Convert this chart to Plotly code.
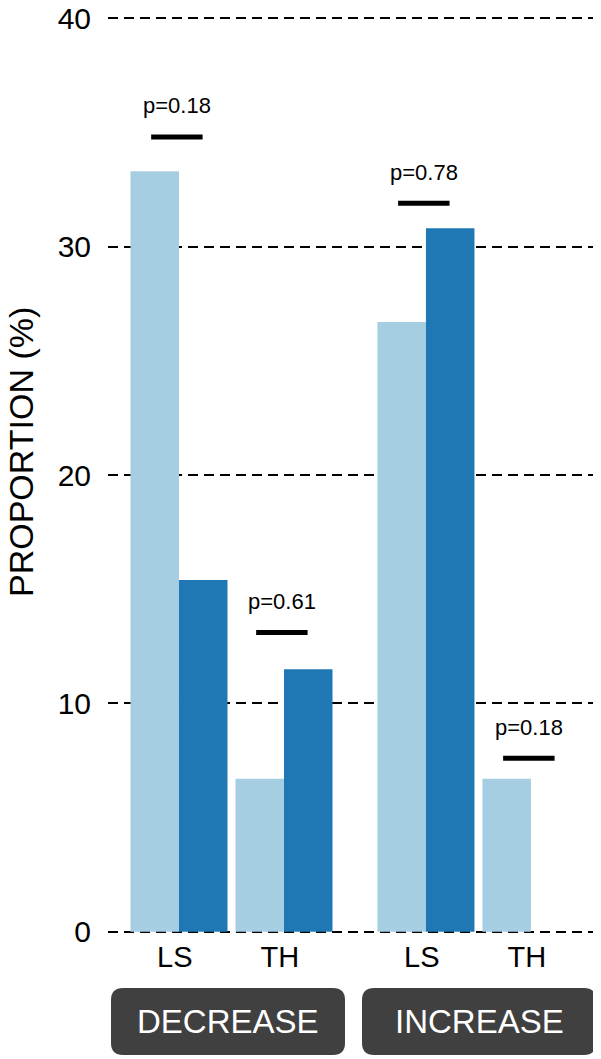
import plotly.graph_objects as go

groups = ["DECREASE", "INCREASE"]
categories = ["LS", "TH", "LS", "TH"]
light_vals = [33.3, 6.7, 26.7, 6.7]
dark_vals = [15.4, 11.5, 30.8, 0.0]
p_labels = ["p=0.18", "p=0.61", "p=0.78", "p=0.18"]
p_heights = [34.8, 13.1, 31.9, 7.6]

# category positions (two groups with a wider gap between them)
pos = [0, 1, 2.352, 3.352]
bw = 0.462

# page body adds an 8px offset, so the figure is shrunk by that amount
OFF = 8
W, H = 601 - OFF, 1059 - OFF
L, T = 108 - OFF, 17 - OFF
R = W - (595 - OFF)
B = H - (933 - OFF)
PW, PH = W - L - R, H - T - B

fig = go.Figure()
fig.add_trace(go.Bar(
    x=[p - bw / 2 for p in pos], y=light_vals, width=bw,
    marker=dict(color="#a6cee3", line_width=0), hoverinfo="y"
))
fig.add_trace(go.Bar(
    x=[p + bw / 2 for p in pos], y=dark_vals, width=bw,
    marker=dict(color="#1f78b4", line_width=0), hoverinfo="y"
))

# significance bars
for p, h, lab in zip(pos, p_heights, p_labels):
    fig.add_trace(go.Scatter(
        x=[p - 0.265, p + 0.225], y=[h, h], mode="lines",
        line=dict(color="black", width=5), hoverinfo="skip"
    ))
    fig.add_annotation(
        x=p - 0.02, y=h, xref="x", yref="y", text=lab, showarrow=False,
        yshift=31, font=dict(size=22, color="black")
    )


def px2paper(x, y):
    # reference-picture pixels -> paper coords
    return (x - OFF - L) / PW, (H - B - (y - OFF)) / PH


def rounded_box(x0, y0, x1, y1, r):
    ax0, ay0 = px2paper(x0, y0)
    ax1, ay1 = px2paper(x1, y1)
    rx = r / PW
    ry = r / PH
    return (
        f"M {ax0 + rx},{ay0} L {ax1 - rx},{ay0} Q {ax1},{ay0} {ax1},{ay0 - ry} "
        f"L {ax1},{ay1 + ry} Q {ax1},{ay1} {ax1 - rx},{ay1} "
        f"L {ax0 + rx},{ay1} Q {ax0},{ay1} {ax0},{ay1 + ry} "
        f"L {ax0},{ay0 - ry} Q {ax0},{ay0} {ax0 + rx},{ay0} Z"
    )


boxes = [(111, 988, 345, 1055), (362, 988, 596, 1055)]
for g, (x0, y0, x1, y1) in zip(groups, boxes):
    fig.add_shape(
        type="path", path=rounded_box(x0, y0, x1, y1, 12),
        xref="paper", yref="paper", fillcolor="#404040", line=dict(width=0)
    )
    cx, cy = px2paper((x0 + x1) / 2, (y0 + y1) / 2)
    fig.add_annotation(
        x=cx, y=cy, xref="paper", yref="paper", text=g, showarrow=False,
        font=dict(size=33, color="white"), xanchor="center", yanchor="middle"
    )

tx, ty = px2paper(21, 452)
fig.add_annotation(
    x=tx, y=ty, xref="paper", yref="paper", text="PROPORTION (%)",
    showarrow=False, textangle=-90, font=dict(size=34, color="black"),
    xanchor="center", yanchor="middle", borderpad=0
)

fig.update_layout(
    width=W, height=H,
    margin=dict(l=L, r=R, t=T, b=B, pad=0),
    plot_bgcolor="white", paper_bgcolor="white",
    showlegend=False, barmode="overlay",
    font=dict(family="Liberation Sans, Arial, sans-serif", color="black"),
    xaxis=dict(
        range=[-0.676, 3.962], tickvals=[p - 0.04 for p in pos],
        ticktext=categories,
        tickfont=dict(size=29), showgrid=False, zeroline=False,
        showline=False, ticks="", ticklabelstandoff=4, automargin=False
    ),
    yaxis=dict(
        range=[-0.05, 40.05], tickvals=[0, 10, 20, 30, 40],
        showgrid=True, gridcolor="black", griddash="10px,6px", gridwidth=2,
        zeroline=False, showline=False, ticks="",
        tickfont=dict(size=30), ticklabelstandoff=16, automargin=False,
        ticklabeloverflow="allow"
    ),
)

fig.write_html("out.html")
